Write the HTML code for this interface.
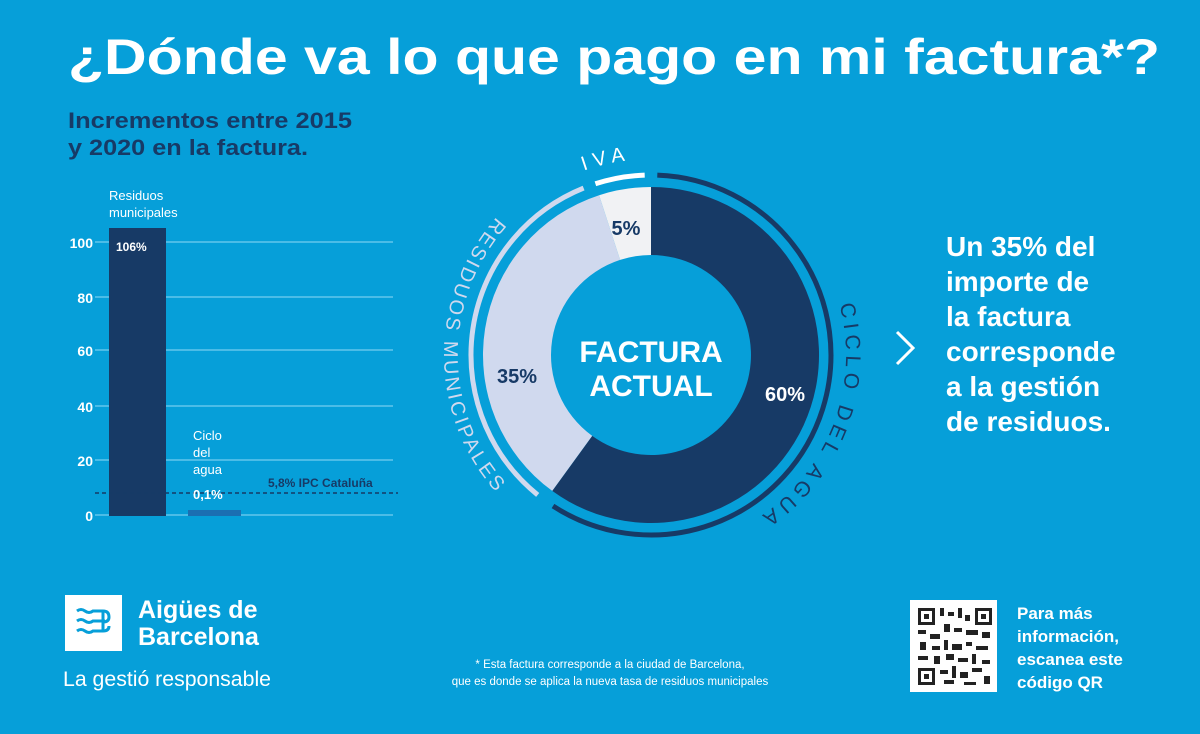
<!DOCTYPE html>
<html><head><meta charset="utf-8"><style>
html,body{margin:0;padding:0;background:#069fd9;}
svg{display:block;font-family:"Liberation Sans",sans-serif;}
</style></head><body>
<svg width="1200" height="734" viewBox="0 0 1200 734" xmlns="http://www.w3.org/2000/svg">
<rect width="1200" height="734" fill="#069fd9"/>
<text x="68" y="74" fill="#fff" font-size="50" font-weight="bold" textLength="1092" lengthAdjust="spacingAndGlyphs">¿Dónde va lo que pago en mi factura*?</text>
<text x="68" y="128" fill="#173a66" font-size="22" font-weight="bold" textLength="284" lengthAdjust="spacingAndGlyphs">Incrementos entre 2015</text>
<text x="68" y="155" fill="#173a66" font-size="22" font-weight="bold" textLength="240" lengthAdjust="spacingAndGlyphs">y 2020 en la factura.</text>
<!-- bar chart -->
<g stroke="#62c6ec" stroke-width="1.5">
<line x1="95" y1="242" x2="393" y2="242"/><line x1="95" y1="297" x2="393" y2="297"/>
<line x1="95" y1="350" x2="393" y2="350"/><line x1="95" y1="406" x2="393" y2="406"/>
<line x1="95" y1="460" x2="393" y2="460"/><line x1="95" y1="515" x2="393" y2="515"/>
</g>
<g fill="#fff" font-size="14" font-weight="bold" text-anchor="end">
<text x="93" y="248">100</text><text x="93" y="303">80</text><text x="93" y="356">60</text>
<text x="93" y="412">40</text><text x="93" y="466">20</text><text x="93" y="521">0</text>
</g>
<rect x="109" y="228" width="57" height="288" fill="#173a66"/>
<rect x="188" y="510" width="53" height="6" fill="#1b6fb2"/>
<line x1="95" y1="493" x2="398" y2="493" stroke="#173a66" stroke-width="1.5" stroke-dasharray="4,3"/>
<text x="109" y="200" fill="#fff" font-size="13">Residuos</text>
<text x="109" y="217" fill="#fff" font-size="13">municipales</text>
<text x="116" y="251" fill="#fff" font-size="12" font-weight="bold">106%</text>
<text x="193" y="440" fill="#fff" font-size="13">Ciclo</text>
<text x="193" y="457" fill="#fff" font-size="13">del</text>
<text x="193" y="474" fill="#fff" font-size="13">agua</text>
<text x="193" y="499" fill="#fff" font-size="13" font-weight="bold">0,1%</text>
<text x="268" y="487" fill="#173a66" font-size="12" font-weight="bold">5,8% IPC Cataluña</text>
<!-- donut -->
<path d="M651,187 A168,168 0 1 1 552.25,490.9 L592.2,435.9 A100,100 0 1 0 651,255 Z" fill="#173a66"/>
<path d="M552.25,490.9 A168,168 0 0 1 599.1,195.2 L620.1,259.9 A100,100 0 0 0 592.2,435.9 Z" fill="#d0d9ee"/>
<path d="M599.1,195.2 A168,168 0 0 1 651,187 L651,255 A100,100 0 0 0 620.1,259.9 Z" fill="#f1f2f4"/>
<path d="M657.3,175.1 A180,180 0 1 1 553,506" fill="none" stroke="#173a66" stroke-width="5"/>
<path d="M537.7,494.9 A180,180 0 0 1 583.6,188.1" fill="none" stroke="#d0d9ee" stroke-width="5"/>
<path d="M595.4,183.8 A180,180 0 0 1 644.7,175.1" fill="none" stroke="#fff" stroke-width="5"/>
<text x="651" y="362" fill="#fff" font-size="30" font-weight="bold" text-anchor="middle">FACTURA</text>
<text x="651" y="396" fill="#fff" font-size="30" font-weight="bold" text-anchor="middle">ACTUAL</text>
<text x="626" y="235" fill="#173a66" font-size="20" font-weight="bold" text-anchor="middle">5%</text>
<text x="517" y="383" fill="#173a66" font-size="20" font-weight="bold" text-anchor="middle">35%</text>
<text x="785" y="401" fill="#fff" font-size="20" font-weight="bold" text-anchor="middle">60%</text>
<defs>
<path id="pC" d="M839.4,304.5 A195,195 0 0 1 717.7,538.2"/>
<path id="pR" d="M502.1,211.2 A207,207 0 0 0 517.9,513.6"/>
<path id="pI" d="M570.7,176 A196,196 0 0 1 651,159"/>
</defs>
<text fill="#173a66" font-size="21" letter-spacing="5.5"><textPath href="#pC" textLength="245" lengthAdjust="spacing">CICLO DEL AGUA</textPath></text>
<text fill="#d0d9ee" font-size="20" letter-spacing="4.5"><textPath href="#pR" startOffset="8" textLength="305" lengthAdjust="spacing">RESIDUOS MUNICIPALES</textPath></text>
<text fill="#fff" font-size="20" letter-spacing="6"><textPath href="#pI" startOffset="14">IVA</textPath></text>
<!-- right text -->
<polyline points="897,332 913,348 897,364" fill="none" stroke="#fff" stroke-width="3"/>
<g fill="#fff" font-size="28" font-weight="bold">
<text x="946" y="256">Un 35% del</text><text x="946" y="291">importe de</text>
<text x="946" y="326">la factura</text><text x="946" y="361">corresponde</text>
<text x="946" y="396">a la gestión</text><text x="946" y="431">de residuos.</text>
</g>
<!-- logo -->
<rect x="65" y="595" width="57" height="56" fill="#fff"/>
<g fill="none" stroke="#069fd9" stroke-width="3">
<path d="M77,611 q4,-3 8,0 t8,0 h10 q6,0 6,6 q0,5 -6,5"/>
<path d="M77,621 q4,-3 8,0 t8,0 h12"/>
<path d="M77,631 q4,-3 8,0 t8,0 h10 q6,0 6,-5"/>
<path d="M103,611 v20"/>
</g>
<text x="138" y="618" fill="#fff" font-size="25" font-weight="bold">Aigües de</text>
<text x="138" y="645" fill="#fff" font-size="25" font-weight="bold">Barcelona</text>
<text x="63" y="686" fill="#fff" font-size="21" textLength="208" lengthAdjust="spacingAndGlyphs">La gestió responsable</text>
<!-- footnote -->
<text x="610" y="668" fill="#fff" font-size="11.5" text-anchor="middle">* Esta factura corresponde a la ciudad de Barcelona,</text>
<text x="610" y="685" fill="#fff" font-size="11.5" text-anchor="middle">que es donde se aplica la nueva tasa de residuos municipales</text>
<!-- QR -->
<rect x="910" y="600" width="87" height="92" fill="#fff"/>
<g fill="#222">
<rect x="918" y="608" width="17" height="17"/><rect x="975" y="608" width="17" height="17"/><rect x="918" y="668" width="17" height="17"/>
</g>
<g fill="#fff"><rect x="921" y="611" width="11" height="11"/><rect x="978" y="611" width="11" height="11"/><rect x="921" y="671" width="11" height="11"/></g>
<g fill="#222"><rect x="924" y="614" width="5" height="5"/><rect x="981" y="614" width="5" height="5"/><rect x="924" y="674" width="5" height="5"/>
<rect x="940" y="608" width="4" height="8"/><rect x="948" y="612" width="6" height="4"/><rect x="958" y="608" width="4" height="10"/><rect x="965" y="615" width="5" height="6"/>
<rect x="918" y="630" width="8" height="4"/><rect x="930" y="634" width="10" height="5"/><rect x="944" y="624" width="6" height="8"/><rect x="954" y="628" width="8" height="4"/>
<rect x="966" y="630" width="12" height="5"/><rect x="982" y="632" width="8" height="6"/><rect x="920" y="642" width="6" height="8"/><rect x="932" y="646" width="8" height="4"/>
<rect x="944" y="640" width="4" height="10"/><rect x="952" y="644" width="10" height="6"/><rect x="966" y="642" width="6" height="4"/><rect x="976" y="646" width="12" height="4"/>
<rect x="918" y="656" width="10" height="4"/><rect x="934" y="656" width="6" height="8"/><rect x="946" y="654" width="8" height="6"/><rect x="958" y="658" width="10" height="4"/>
<rect x="972" y="654" width="4" height="10"/><rect x="982" y="660" width="8" height="4"/><rect x="940" y="670" width="8" height="4"/><rect x="952" y="666" width="4" height="12"/>
<rect x="960" y="672" width="8" height="6"/><rect x="972" y="668" width="10" height="4"/><rect x="984" y="676" width="6" height="8"/><rect x="944" y="680" width="10" height="4"/><rect x="964" y="682" width="12" height="3"/>
</g>
<g fill="#fff" font-size="17" font-weight="bold">
<text x="1017" y="619">Para más</text><text x="1017" y="642">información,</text>
<text x="1017" y="665">escanea este</text><text x="1017" y="688">código QR</text>
</g>
</svg>
</body></html>
